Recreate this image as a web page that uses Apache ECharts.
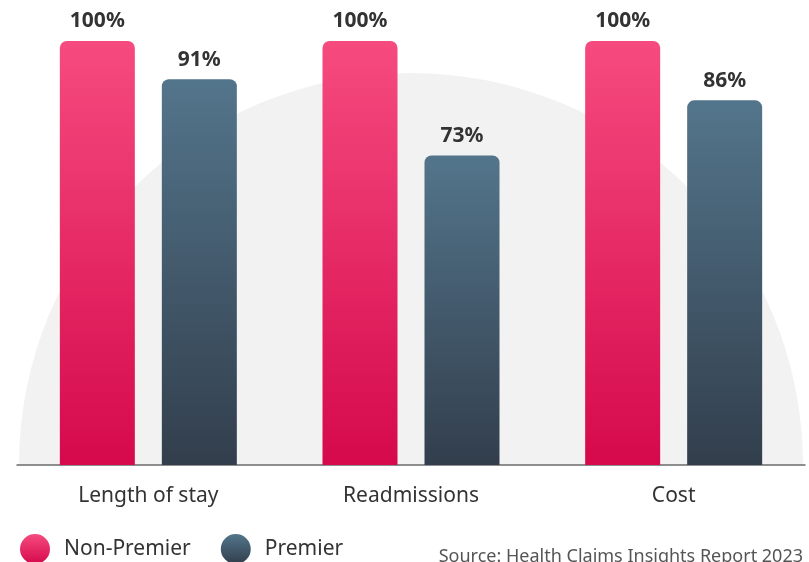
<!DOCTYPE html>
<html>
<head>
<meta charset="utf-8">
<script src="https://cdn.jsdelivr.net/npm/echarts@6/dist/echarts.min.js"></script>
<style>
  html, body { margin: 0; padding: 0; background: #fff; }
  #chart { width: 809px; height: 562px; }
</style>
</head>
<body>
<div id="chart"></div>
<script>
const categories = ["Length of stay", "Readmissions", "Cost"];
const nonPremier = [100, 100, 100];
const premier = [91, 73, 86];
const sourceText = "Source: Health Claims Insights Report 2023";

const font = "'Noto Sans', 'Open Sans', sans-serif";

const pinkGrad = new echarts.graphic.LinearGradient(0, 0, 0, 1, [
  { offset: 0, color: "#f64b7f" },
  { offset: 1, color: "#d5094c" },
]);
const blueGrad = new echarts.graphic.LinearGradient(0, 0, 0, 1, [
  { offset: 0, color: "#53758b" },
  { offset: 1, color: "#323e4c" },
]);

const barLabel = {
  show: true,
  position: "top",
  distance: 9,
  formatter: "{c}%",
  color: "#333",
  fontSize: 21,
  fontWeight: "bold",
  fontFamily: font,
};

const option = {
  animation: false,
  grid: { left: 17, right: 4, top: 41, bottom: 97 },
  xAxis: {
    type: "category",
    data: categories,
    axisTick: { show: false },
    axisLine: { lineStyle: { color: "#6b6b6b", width: 1.5 } },
    axisLabel: { color: "#333", fontSize: 21, fontFamily: font, margin: 21 },
  },
  yAxis: {
    type: "value",
    min: 0,
    max: 100,
    show: false,
    splitLine: { show: false },
  },
  legend: {
    left: 20,
    top: 534,
    padding: 0,
    icon: "circle",
    itemWidth: 30,
    itemHeight: 30,
    itemGap: 30,
    textStyle: { color: "#333", fontSize: 21, fontFamily: font, padding: [0, 0, 0, 9] },
    data: ["Non-Premier", "Premier"],
  },
  series: [
    {
      name: "Non-Premier",
      type: "bar",
      data: nonPremier,
      barWidth: 75,
      barGap: "36%",
      itemStyle: { color: pinkGrad, borderRadius: [7, 7, 0, 0] },
      label: barLabel,
      z: 3,
    },
    {
      name: "Premier",
      type: "bar",
      data: premier,
      barWidth: 75,
      itemStyle: { color: blueGrad, borderRadius: [7, 7, 0, 0] },
      label: barLabel,
      z: 3,
    },
  ],
};

const chart = echarts.init(document.getElementById("chart"));
chart.setOption(option);

// background half circle behind the bars, centred on the plot, sitting on the baseline
const base = chart.convertToPixel({ yAxisIndex: 0 }, 0);
const left = chart.convertToPixel({ xAxisIndex: 0 }, 0);
const right = chart.convertToPixel({ xAxisIndex: 0 }, categories.length - 1);
const cx = (left + right) / 2;
chart.setOption({
  graphic: [
    {
      type: "sector",
      z: 0,
      silent: true,
      shape: { cx: cx, cy: base, r: 392, startAngle: Math.PI, endAngle: Math.PI * 2 },
      style: { fill: "#f2f2f2" },
    },
    {
      type: "text",
      right: 6,
      top: 548,
      style: { text: sourceText, fill: "#555", fontSize: 18, fontFamily: font },
    },
  ],
});
</script>
</body>
</html>
